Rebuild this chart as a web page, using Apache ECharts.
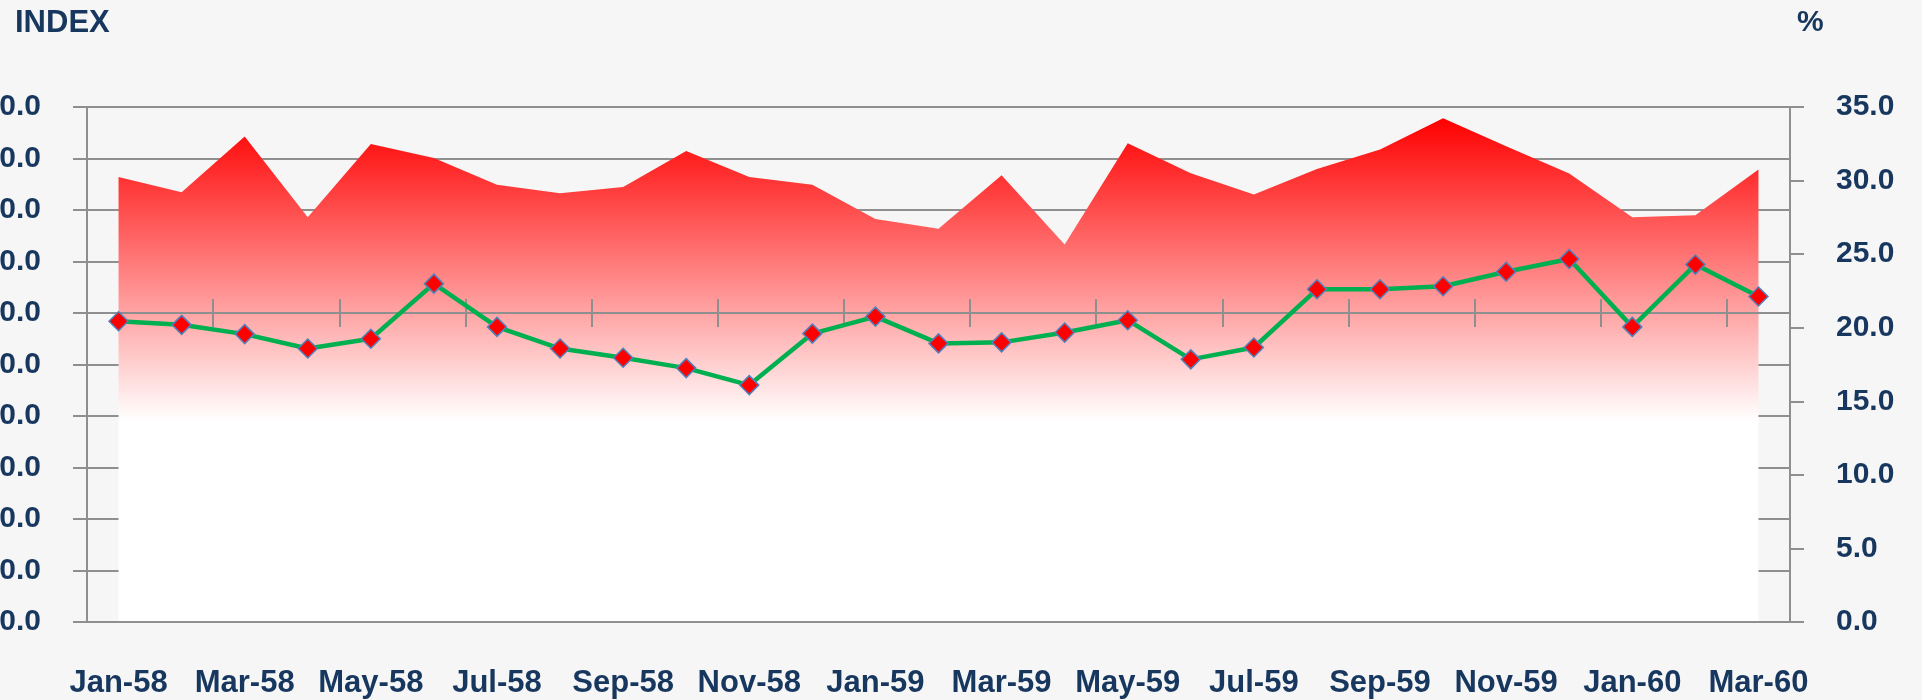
<!DOCTYPE html>
<html>
<head>
<meta charset="utf-8">
<script src="https://cdn.jsdelivr.net/npm/echarts@6/dist/echarts.min.js"></script>
<style>
html,body{margin:0;padding:0;background:#f6f6f6;}
#chart{width:1922px;height:700px;}
</style>
</head>
<body>
<div id="chart"></div>
<script>
var categories = ['Jan-58','Feb-58','Mar-58','Apr-58','May-58','Jun-58','Jul-58','Aug-58','Sep-58','Oct-58','Nov-58','Dec-58',
  'Jan-59','Feb-59','Mar-59','Apr-59','May-59','Jun-59','Jul-59','Aug-59','Sep-59','Oct-59','Nov-59','Dec-59',
  'Jan-60','Feb-60','Mar-60'];
// INDEX (left axis) - green line
var indexValues = [98.4,97.7,95.9,93.1,95.0,105.7,97.3,93.1,91.3,89.3,86.0,96.0,
  99.3,94.1,94.3,96.2,98.6,91.0,93.3,104.6,104.6,105.2,108.0,110.5,
  97.3,109.4,103.2];
// % (right axis) - red area
var pctValues = [30.25,29.21,32.99,27.51,32.49,31.54,29.71,29.14,29.57,32.01,30.25,29.71,
  27.38,26.72,30.36,25.66,32.54,30.50,29.05,30.79,32.11,34.23,32.33,30.48,
  27.51,27.65,30.75];
var leftTicks = {min:40, max:140, interval:10};
var rightTicks = {min:0, max:35, interval:5};

var textColor = '#17375E';
var lineGray = '#8f8f8f';
var font = "'Liberation Sans', Arial, sans-serif";

var chart = echarts.init(document.getElementById('chart'), null, {renderer:'canvas'});
var gridTop = 107, gridBottom = 78;
var plotH = 700 - gridTop - gridBottom;
var crossOffset = -plotH * (leftTicks.max - 100) / (leftTicks.max - leftTicks.min);

function midAxis(inside, showLine) {
  return {
    type:'category', data:categories, position:'top', offset:crossOffset, boundaryGap:true, z:4,
    axisLine:{show:showLine, lineStyle:{color:lineGray, width:2}},
    axisTick:{show:true, inside:inside, interval:1, length:14, lineStyle:{color:lineGray, width:2}},
    axisLabel:{show:false}, splitLine:{show:false}
  };
}

chart.setOption({
  backgroundColor:'#f6f6f6',
  animation:false,
  title:[
    {text:'INDEX', left:10, top:3, textStyle:{fontFamily:font, fontSize:31, fontWeight:'bold', color:textColor}},
    {text:'%', left:1792, top:3, textStyle:{fontFamily:font, fontSize:30, fontWeight:'bold', color:textColor}}
  ],
  grid:{left:87, right:132, top:gridTop, bottom:gridBottom, containLabel:false, outerBoundsMode:'none'},
  xAxis:[
    {type:'category', data:categories, position:'bottom', boundaryGap:true, z:4,
     axisLine:{show:true, lineStyle:{color:lineGray, width:2}},
     axisTick:{show:false},
     axisLabel:{interval:1, margin:46, fontFamily:font, fontSize:31, fontWeight:'bold', color:textColor},
     splitLine:{show:false}},
    midAxis(false, true),
    midAxis(true, false)
  ],
  yAxis:[
    {type:'value', position:'left', min:leftTicks.min, max:leftTicks.max, interval:leftTicks.interval, z:0,
     axisLine:{show:true, lineStyle:{color:lineGray, width:2}},
     axisTick:{show:true, length:14, lineStyle:{color:lineGray, width:2}},
     axisLabel:{margin:46, fontFamily:font, fontSize:30, fontWeight:'bold', color:textColor,
       formatter:function(v){return v.toFixed(1);}},
     splitLine:{show:true, lineStyle:{color:lineGray, width:2}}},
    {type:'value', position:'right', min:rightTicks.min, max:rightTicks.max, interval:rightTicks.interval, z:0,
     axisLine:{show:true, lineStyle:{color:lineGray, width:2}},
     axisTick:{show:true, length:14, lineStyle:{color:lineGray, width:2}},
     axisLabel:{margin:46, fontFamily:font, fontSize:30, fontWeight:'bold', color:textColor,
       formatter:function(v){return v.toFixed(1);}},
     splitLine:{show:false}}
  ],
  series:[
    {name:'%', type:'line', xAxisIndex:0, yAxisIndex:1, data:pctValues, z:1,
     symbol:'none', lineStyle:{width:0, opacity:0},
     areaStyle:{opacity:1, color:new echarts.graphic.LinearGradient(0,0,0,1,[
       {offset:0, color:'rgb(255,0,0)'},
       {offset:0.6, color:'rgb(255,255,255)'},
       {offset:1, color:'rgb(255,255,255)'}
     ])}},
    {name:'INDEX', type:'line', xAxisIndex:0, yAxisIndex:0, data:indexValues, z:6,
     symbol:'diamond', symbolSize:19,
     lineStyle:{color:'#00B050', width:4.5},
     itemStyle:{color:'#FF0000', borderColor:'#4F81BD', borderWidth:1.5}}
  ]
});
</script>
</body>
</html>
